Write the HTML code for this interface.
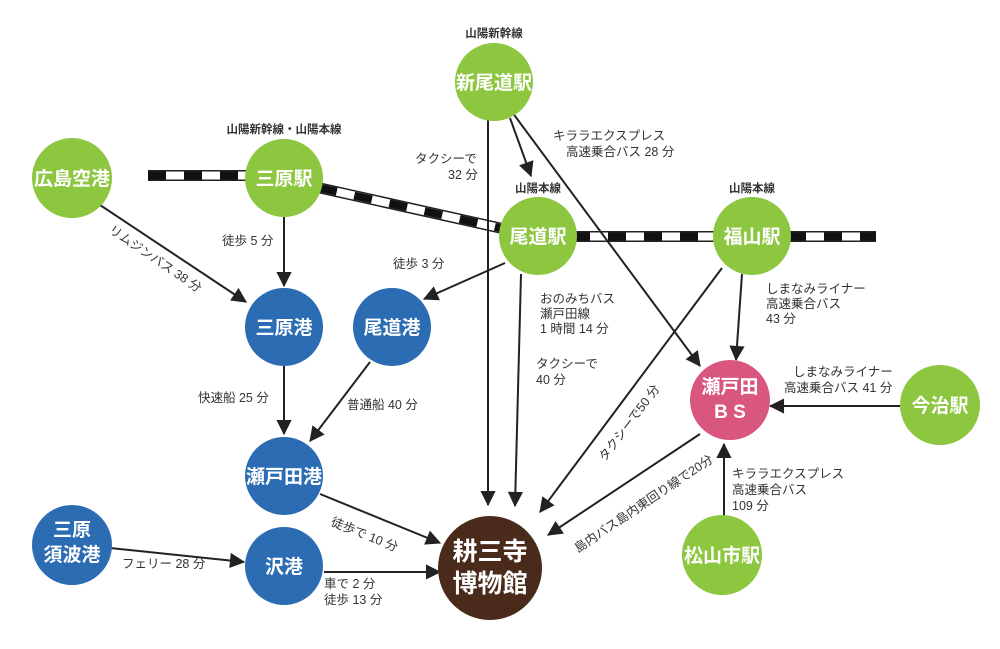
<!DOCTYPE html>
<html><head><meta charset="utf-8"><style>
html,body{margin:0;padding:0;background:#fff}
svg{display:block}
text{font-family:"Liberation Sans","Noto Sans CJK JP",sans-serif}
.n{font-weight:bold;fill:#fff;font-size:19px;text-anchor:middle}
.l{font-size:12.5px;fill:#333}
.t{font-size:11.5px;fill:#333;font-weight:bold;text-anchor:middle}
line.a{stroke:#222;stroke-width:2;marker-end:url(#ar)}
</style></head><body>
<svg width="1000" height="649" viewBox="0 0 1000 649">
<defs>
<marker id="ar" viewBox="0 0 10 10" refX="9" refY="5" markerWidth="8" markerHeight="8" markerUnits="userSpaceOnUse" orient="auto" style="overflow:visible">
<path d="M0,0 L10,5 L0,10 z" fill="#222" transform="scale(1.9) translate(-4.5,-2.4)"/></marker>
</defs>
<g>
<line x1="148" y1="175.5" x2="284" y2="175.5" stroke="#222" stroke-width="11"/>
<line x1="148" y1="175.5" x2="284" y2="175.5" stroke="#fff" stroke-width="8"/>
<line x1="148" y1="175.5" x2="284" y2="175.5" stroke="#111" stroke-width="8" stroke-dasharray="18,18"/>
<line x1="284" y1="180" x2="536" y2="236" stroke="#222" stroke-width="11"/>
<line x1="284" y1="180" x2="536" y2="236" stroke="#fff" stroke-width="8"/>
<line x1="284" y1="180" x2="536" y2="236" stroke="#111" stroke-width="8" stroke-dasharray="18,18"/>
<line x1="536" y1="236.5" x2="876" y2="236.5" stroke="#222" stroke-width="11"/>
<line x1="536" y1="236.5" x2="876" y2="236.5" stroke="#fff" stroke-width="8"/>
<line x1="536" y1="236.5" x2="876" y2="236.5" stroke="#111" stroke-width="8" stroke-dasharray="18,18"/>
</g>
<line class="a" x1="100" y1="205" x2="246" y2="302"/>
<line class="a" x1="284" y1="216" x2="284" y2="286"/>
<line class="a" x1="510" y1="118" x2="531" y2="176"/>
<line class="a" x1="512" y1="112" x2="700" y2="366"/>
<line class="a" x1="488" y1="120" x2="488" y2="505"/>
<line class="a" x1="505" y1="263" x2="424" y2="299"/>
<line class="a" x1="521" y1="274" x2="515" y2="506"/>
<line class="a" x1="722" y1="268" x2="540" y2="512"/>
<line class="a" x1="742" y1="274" x2="736" y2="360"/>
<line class="a" x1="902" y1="406" x2="770" y2="406"/>
<line class="a" x1="724" y1="517" x2="724" y2="444"/>
<line class="a" x1="700" y1="434" x2="548" y2="535"/>
<line class="a" x1="284" y1="366" x2="284" y2="434"/>
<line class="a" x1="370" y1="362" x2="310" y2="441"/>
<line class="a" x1="320" y1="494" x2="440" y2="543"/>
<line class="a" x1="110" y1="548" x2="244" y2="562"/>
<line class="a" x1="324" y1="572" x2="440" y2="572"/>
<g fill="#8dc63f">
<circle cx="72" cy="178" r="40"/><circle cx="284" cy="178" r="39"/><circle cx="494" cy="82" r="39"/>
<circle cx="538" cy="236" r="39"/><circle cx="752" cy="236" r="39"/><circle cx="940" cy="405" r="40"/><circle cx="722" cy="555" r="40"/>
</g>
<g fill="#2b6cb3">
<circle cx="284" cy="327" r="39"/><circle cx="392" cy="327" r="39"/><circle cx="284" cy="476" r="39"/><circle cx="72" cy="545" r="40"/><circle cx="284" cy="566" r="39"/>
</g>
<circle cx="730" cy="400" r="40" fill="#d9577f"/>
<circle cx="490" cy="568" r="52" fill="#4a2a1a"/>
<text class="n" x="72" y="185">広島空港</text>
<text class="n" x="284" y="185">三原駅</text>
<text class="n" x="494" y="89">新尾道駅</text>
<text class="n" x="538" y="243">尾道駅</text>
<text class="n" x="752" y="243">福山駅</text>
<text class="n" x="940" y="412">今治駅</text>
<text class="n" x="722" y="562">松山市駅</text>
<text class="n" x="284" y="334">三原港</text>
<text class="n" x="392" y="334">尾道港</text>
<text class="n" x="284" y="483">瀬戸田港</text>
<text class="n" x="72" y="536">三原</text><text class="n" x="72" y="561">須波港</text>
<text class="n" x="284" y="573">沢港</text>
<text class="n" x="730" y="393">瀬戸田</text><text class="n" x="730" y="418">B S</text>
<text class="n" x="490" y="560" style="font-size:25px">耕三寺</text><text class="n" x="490" y="592" style="font-size:25px">博物館</text>
<text class="t" x="494" y="37">山陽新幹線</text>
<text class="t" x="284" y="133">山陽新幹線・山陽本線</text>
<text class="t" x="538" y="192">山陽本線</text>
<text class="t" x="752" y="192">山陽本線</text>
<text class="l" x="222" y="245">徒歩 5 分</text>
<text class="l" x="393" y="268">徒歩 3 分</text>
<text class="l" x="415" y="163">タクシーで</text><text class="l" x="448" y="179">32 分</text>
<text class="l" x="553" y="140">キララエクスプレス</text><text class="l" x="566" y="156">高速乗合バス 28 分</text>
<text class="l" x="540" y="303">おのみちバス</text><text class="l" x="540" y="318">瀬戸田線</text><text class="l" x="540" y="333">1 時間 14 分</text>
<text class="l" x="536" y="368">タクシーで</text><text class="l" x="536" y="384">40 分</text>
<text class="l" x="766" y="293">しまなみライナー</text><text class="l" x="766" y="308">高速乗合バス</text><text class="l" x="766" y="323">43 分</text>
<text class="l" x="793" y="376">しまなみライナー</text><text class="l" x="784" y="392">高速乗合バス 41 分</text>
<text class="l" x="732" y="478">キララエクスプレス</text><text class="l" x="732" y="494">高速乗合バス</text><text class="l" x="732" y="510">109 分</text>
<text class="l" x="198" y="402">快速船 25 分</text>
<text class="l" x="347" y="409">普通船 40 分</text>
<text class="l" x="330" y="525" transform="rotate(22 330 525)">徒歩で 10 分</text>
<text class="l" x="122" y="568">フェリー 28 分</text>
<text class="l" x="324" y="588">車で 2 分</text><text class="l" x="324" y="604">徒歩 13 分</text>
<text class="l" x="108" y="232" transform="rotate(34 108 232)">リムジンバス 38 分</text>
<text class="l" x="605" y="462" transform="rotate(-53 605 462)">タクシーで50 分</text>
<text class="l" x="578" y="553" transform="rotate(-34 578 553)">島内バス島内東回り線で20分</text>
</svg>
</body></html>
